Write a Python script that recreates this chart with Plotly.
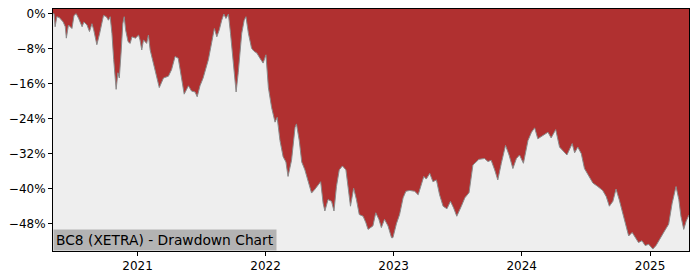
import plotly.graph_objects as go

dates = [
    "2020-05-05", "2020-05-08", "2020-05-11", "2020-05-16", "2020-05-23", "2020-06-03", "2020-06-09",
    "2020-06-12", "2020-06-18", "2020-06-28", "2020-07-04", "2020-07-10", "2020-07-17", "2020-07-27",
    "2020-08-01", "2020-08-10", "2020-08-17", "2020-08-24", "2020-08-29", "2020-09-07", "2020-09-15",
    "2020-09-21", "2020-09-26", "2020-10-04", "2020-10-10", "2020-10-15", "2020-10-20", "2020-10-25",
    "2020-11-01", "2020-11-06", "2020-11-10", "2020-11-15", "2020-11-20", "2020-11-24", "2020-11-28",
    "2020-12-05", "2020-12-11", "2020-12-16", "2020-12-26", "2021-01-04", "2021-01-08", "2021-01-13",
    "2021-01-18", "2021-01-27", "2021-02-01", "2021-02-06", "2021-02-15", "2021-02-25", "2021-03-04",
    "2021-03-16", "2021-03-30", "2021-04-08", "2021-04-18", "2021-04-27", "2021-05-07", "2021-05-14",
    "2021-05-26", "2021-06-04", "2021-06-14", "2021-06-20", "2021-06-28", "2021-07-07", "2021-07-22",
    "2021-07-31", "2021-08-08", "2021-08-15", "2021-08-22", "2021-08-29", "2021-09-04", "2021-09-10",
    "2021-09-17", "2021-09-23", "2021-10-01", "2021-10-09", "2021-10-15", "2021-10-25", "2021-11-01",
    "2021-11-06", "2021-11-13", "2021-11-22", "2021-11-29", "2021-12-07", "2021-12-16", "2021-12-25",
    "2022-01-02", "2022-01-09", "2022-01-18", "2022-01-28", "2022-02-03", "2022-02-11", "2022-02-20",
    "2022-02-28", "2022-03-06", "2022-03-16", "2022-03-26", "2022-03-30", "2022-04-07", "2022-04-14",
    "2022-04-23", "2022-05-02", "2022-05-12", "2022-05-21", "2022-05-31", "2022-06-07", "2022-06-14",
    "2022-06-19", "2022-06-28", "2022-07-08", "2022-07-15", "2022-07-22", "2022-07-30", "2022-08-08",
    "2022-08-18", "2022-08-24", "2022-08-31", "2022-09-09", "2022-09-17", "2022-09-25", "2022-10-06",
    "2022-10-14", "2022-10-20", "2022-11-03", "2022-11-11", "2022-11-20", "2022-11-27", "2022-12-06",
    "2022-12-16", "2022-12-26", "2022-12-30", "2023-01-09", "2023-01-18", "2023-01-28", "2023-02-05",
    "2023-02-16", "2023-03-02", "2023-03-12", "2023-03-21", "2023-03-28", "2023-04-04", "2023-04-14",
    "2023-04-23", "2023-05-03", "2023-05-12", "2023-05-22", "2023-06-02", "2023-06-12", "2023-06-21",
    "2023-06-30", "2023-07-13", "2023-07-23", "2023-08-04", "2023-08-15", "2023-09-01", "2023-09-17",
    "2023-09-27", "2023-10-06", "2023-10-16", "2023-10-25", "2023-11-04", "2023-11-16", "2023-11-26",
    "2023-12-07", "2023-12-17", "2023-12-26", "2024-01-06", "2024-01-19", "2024-01-29", "2024-02-07",
    "2024-02-16", "2024-03-01", "2024-03-16", "2024-03-25", "2024-04-07", "2024-04-18", "2024-05-02",
    "2024-05-09", "2024-05-24", "2024-05-31", "2024-06-09", "2024-06-19", "2024-06-28", "2024-07-10",
    "2024-07-22", "2024-08-05", "2024-08-19", "2024-08-29", "2024-09-07", "2024-09-17", "2024-09-26",
    "2024-10-05", "2024-10-15", "2024-10-23", "2024-11-01", "2024-11-11", "2024-11-20", "2024-11-29",
    "2024-12-09", "2024-12-18", "2024-12-28", "2025-01-09", "2025-01-18", "2025-01-30", "2025-02-11",
    "2025-02-23", "2025-03-05", "2025-03-16", "2025-03-24", "2025-03-30", "2025-04-07", "2025-04-14",
    "2025-04-22",
]

drawdown = [
    0.0, 0.0, -3.0, -0.7, -0.9, -1.9, -3.0,
    -5.6, -2.6, -3.4, -0.4, 0.0, -1.1, -3.0,
    -1.9, -2.6, -4.1, -2.3, -3.7, -7.1, -4.5,
    -1.9, -0.4, -0.7, -1.5, -0.7, -4.5, -10.5,
    -17.3, -13.5, -14.7, -9.0, -2.3, -0.7, -3.7,
    -6.4, -6.8, -5.3, -5.6, -4.9, -6.0, -8.3,
    -6.0, -6.8, -4.9, -8.3, -11.3, -15.0, -16.9,
    -14.7, -14.3, -12.8, -9.8, -10.2, -15.0, -18.4,
    -16.5, -17.7, -17.9, -19.0, -16.5, -14.7, -10.5,
    -6.4, -3.4, -5.3, -3.7, -1.5, -0.1, -1.1,
    -0.1, -4.5, -11.3, -17.9, -13.5, -4.5, -1.5,
    -0.7, -4.5, -7.9, -8.6, -9.0, -10.2, -11.3,
    -9.4, -16.9, -21.4, -24.8, -23.7, -29.0, -32.7,
    -33.9, -37.2, -33.5, -26.0, -25.2, -29.0, -33.9,
    -35.7, -38.4, -41.0, -40.2, -39.1, -38.4, -43.3,
    -45.1, -42.5, -42.9, -45.1, -39.5, -35.7, -34.8,
    -35.7, -39.5, -44.0, -39.9, -42.5, -45.9, -46.3,
    -47.8, -49.3, -48.5, -45.5, -47.0, -48.9, -47.0,
    -48.5, -51.2, -51.2, -48.0, -45.9, -42.1, -40.6,
    -40.4, -40.6, -41.4, -38.7, -37.2, -37.8, -36.5,
    -38.4, -38.0, -41.4, -44.0, -44.6, -42.9, -44.4,
    -46.3, -44.0, -42.1, -40.9, -34.6, -33.3, -33.1,
    -33.8, -33.5, -35.7, -38.0, -34.2, -30.1, -32.3,
    -35.4, -33.1, -32.3, -34.2, -29.0, -27.1, -26.1,
    -28.6, -27.8, -27.1, -28.4, -26.5, -30.5, -31.6,
    -32.3, -29.7, -31.8, -30.5, -32.0, -35.4, -36.9,
    -38.7, -39.5, -40.4, -41.8, -44.0, -42.9, -40.1,
    -42.5, -45.5, -47.8, -50.8, -50.0, -51.2, -52.3,
    -51.9, -53.0, -52.7, -53.8, -53.0, -51.5, -49.7,
    -48.1, -43.3, -39.5, -42.5, -46.3, -49.3, -47.4,
    -46.0,
]

y_ticks = [0, -8, -16, -24, -32, -40, -48]
y_tick_labels = ["0%", "\u22128%", "\u221216%", "\u221224%", "\u221232%", "\u221240%", "\u221248%"]
x_ticks = ["2021-01-01", "2022-01-01", "2023-01-01", "2024-01-01", "2025-01-01"]
x_tick_labels = ["2021", "2022", "2023", "2024", "2025"]
title_text = "BC8 (XETRA) - Drawdown Chart"

y_top = 1.06
y_bottom = -54.24

fig = go.Figure()
fig.add_trace(go.Scatter(x=dates, y=drawdown, mode="lines",
                         line=dict(width=0, color="rgba(0,0,0,0)"),
                         hoverinfo="skip", showlegend=False))
fig.add_trace(go.Scatter(x=dates, y=[y_top + 5] * len(dates), mode="lines",
                         line=dict(width=0, color="rgba(0,0,0,0)"),
                         fill="tonexty", fillcolor="#B03030",
                         hoverinfo="skip", showlegend=False))
fig.add_trace(go.Scatter(x=dates, y=drawdown, mode="lines",
                         line=dict(width=1, color="#8A8A8A"),
                         showlegend=False))

fig.update_layout(
    width=700, height=280,
    margin=dict(l=53, r=11, t=7, b=28),
    paper_bgcolor="white",
    plot_bgcolor="#EEEEEE",
    font=dict(family="DejaVu Sans", size=12, color="black"),
    showlegend=False,
)
fig.update_xaxes(
    type="date",
    range=[dates[0], dates[-1]],
    tickvals=x_ticks, ticktext=x_tick_labels,
    showgrid=False, zeroline=False,
    showline=True, linecolor="black", linewidth=1, mirror=True,
    ticks="outside", ticklen=4, tickcolor="black",
    tickfont=dict(size=12),
)
fig.update_yaxes(
    range=[y_bottom, y_top],
    tickvals=y_ticks, ticktext=y_tick_labels,
    showgrid=False, zeroline=False,
    showline=True, linecolor="black", linewidth=1, mirror=True,
    ticks="outside", ticklen=4, tickcolor="black",
    tickfont=dict(size=12),
)
fig.add_annotation(
    xref="paper", yref="paper", x=0, y=0, xanchor="left", yanchor="bottom",
    text=title_text, showarrow=False,
    font=dict(family="DejaVu Sans", size=13.8, color="black"),
    bgcolor="#B3B3B3", borderpad=2,
)

fig.write_html("out.html")
